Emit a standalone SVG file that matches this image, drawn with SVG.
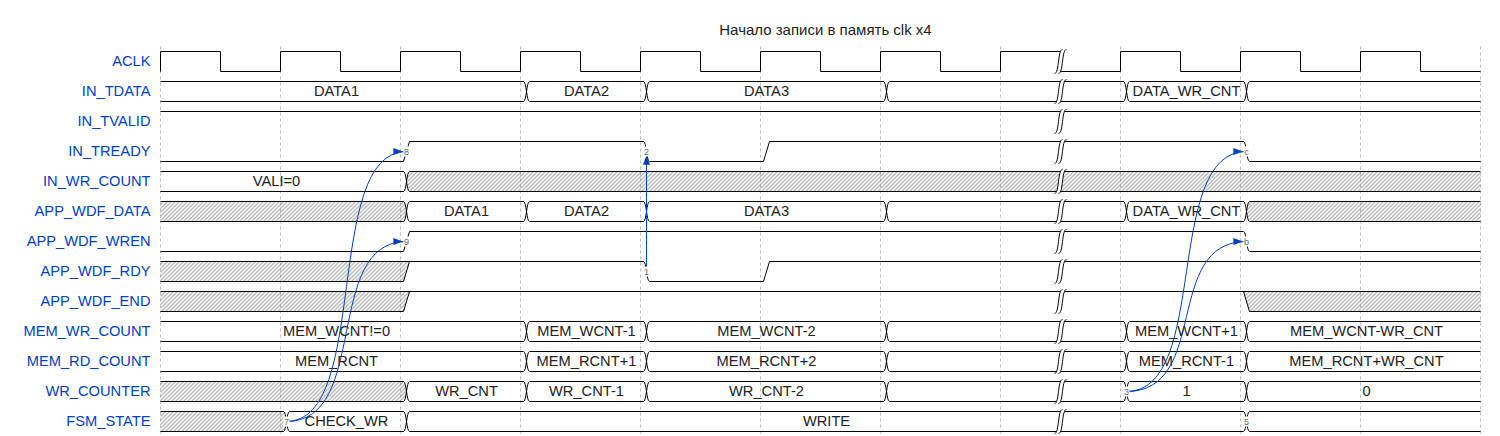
<svg xmlns="http://www.w3.org/2000/svg" xmlns:xlink="http://www.w3.org/1999/xlink" width="1500" height="436" viewBox="0 0 1500 436">
<style>
.lbl{font-family:"Liberation Sans",Arial,sans-serif;font-size:14.67px;fill:#0041c4;text-anchor:end}
.txt{font-family:"Liberation Sans",Arial,sans-serif;font-size:14.67px;fill:#222;text-anchor:middle}
.title{font-family:"Liberation Sans","Noto Sans",Arial,sans-serif;font-size:15px;fill:#222;text-anchor:middle}
.w{fill:none;stroke:#000;stroke-width:1}
.h{fill:url(#hatch);stroke:none}
.grid{stroke:#bbb;stroke-width:1;stroke-dasharray:3,3;fill:none}
.edge{fill:none;stroke:#0041c4;stroke-width:1;marker-end:url(#arrowhead)}
.nd{font-family:"Liberation Sans",Arial,sans-serif;font-size:9px;fill:#666;text-anchor:middle}
.ndbg{fill:#fff}
</style>
<defs>
<pattern id="hatch" width="4" height="4" patternUnits="userSpaceOnUse">
<path d="M-1,1 l2,-2 M0,4 l4,-4 M3,5 l2,-2" stroke="#666" stroke-width="0.9"/>
</pattern>
<marker id="arrowhead" markerHeight="7" markerWidth="10" markerUnits="strokeWidth" viewBox="0 -4 11 8" refX="15" refY="0" orient="auto">
<path d="M0,-4 11,0 0,4z" fill="#0041c4"/>
</marker>
<path id="xt" d="M3,0 C6,0 6,20 9,20 M3,20 C6,20 6,0 9,0" fill="none" stroke="#000" stroke-width="1"/>
<g id="gap">
<path d="M-6,22 C-1,22 -3,-2 2,-2 L6,-2 C1,-2 3,22 -2,22 Z" fill="#fff" stroke="none"/>
<path d="M-6,22 C-1,22 -3,-2 2,-2 M-2,22 C3,22 1,-2 6,-2" fill="none" stroke="#000" stroke-width="1"/>
</g>
</defs>
<rect width="1500" height="436" fill="#fff"/>
<g transform="translate(0.5,0.5)">
<g id="title"><text class="title" x="825" y="34">Начало записи в память clk x4</text></g>
<g id="grid" class="grid">
<path d="M160,46V436 M280,46V436 M400,46V436 M520,46V436 M640,46V436 M760,46V436 M880,46V436 M1000,46V436 M1120,46V436 M1240,46V436 M1360,46V436 M1480,46V436"/>
</g>

<g id="sig-ACLK">
<text class="lbl" x="150" y="65.5">ACLK</text>
<path class="w" d="M160,71 V51 H220 V71 H280 V51 H340 V71 H400 V51 H460 V71 H520 V51 H580 V71 H640 V51 H700 V71 H760 V51 H820 V71 H880 V51 H940 V71 H1000 V51 H1060 V71 H1120 V51 H1180 V71 H1240 V51 H1300 V71 H1360 V51 H1420 V71 H1480"/>
<use xlink:href="#gap" x="1060" y="51"/>
</g>

<g id="sig-IN_TDATA">
<text class="lbl" x="150" y="95.5">IN_TDATA</text>
<path class="w" d="M160,81 H523 M529,81 H643 M649,81 H883 M889,81 H1123 M1129,81 H1243 M1249,81 H1480 M160,101 H523 M529,101 H643 M649,101 H883 M889,101 H1123 M1129,101 H1243 M1249,101 H1480"/>
<use xlink:href="#xt" x="520" y="81"/><use xlink:href="#xt" x="640" y="81"/><use xlink:href="#xt" x="880" y="81"/><use xlink:href="#xt" x="1120" y="81"/><use xlink:href="#xt" x="1240" y="81"/>
<text class="txt" x="336" y="95.5">DATA1</text>
<text class="txt" x="586" y="95.5">DATA2</text>
<text class="txt" x="766" y="95.5">DATA3</text>
<text class="txt" x="1186" y="95.5">DATA_WR_CNT</text>
<use xlink:href="#gap" x="1060" y="81"/>
</g>

<g id="sig-IN_TVALID">
<text class="lbl" x="150" y="125.5">IN_TVALID</text>
<path class="w" d="M160,111 H1480"/>
<use xlink:href="#gap" x="1060" y="111"/>
</g>

<g id="sig-IN_TREADY">
<text class="lbl" x="150" y="155.5">IN_TREADY</text>
<path class="w" d="M160,161 H403 L409,141 H643 C646,141 646,161 649,161 H763 L769,141 H1243 C1246,141 1246,161 1249,161 H1480"/>
<use xlink:href="#gap" x="1060" y="141"/>
</g>

<g id="sig-IN_WR_COUNT">
<text class="lbl" x="150" y="185.5">IN_WR_COUNT</text>
<path class="h" d="M406,181 C406.75,176 407.5,171 409,171 H1480 V191 H409 C407.5,191 406.75,186 406,181 Z"/>
<path class="w" d="M160,171 H403 M409,171 H1480 M160,191 H403 M409,191 H1480"/>
<use xlink:href="#xt" x="400" y="171"/>
<text class="txt" x="276" y="185.5">VALI=0</text>
<use xlink:href="#gap" x="1060" y="171"/>
</g>

<g id="sig-APP_WDF_DATA">
<text class="lbl" x="150" y="215.5">APP_WDF_DATA</text>
<path class="h" d="M160,201 H403 C404.5,201 405.25,206 406,211 C405.25,216 404.5,221 403,221 H160 Z"/>
<path class="h" d="M1246,211 C1246.75,206 1247.5,201 1249,201 H1480 V221 H1249 C1247.5,221 1246.75,216 1246,211 Z"/>
<path class="w" d="M160,201 H403 M409,201 H523 M529,201 H643 M649,201 H883 M889,201 H1123 M1129,201 H1243 M1249,201 H1480 M160,221 H403 M409,221 H523 M529,221 H643 M649,221 H883 M889,221 H1123 M1129,221 H1243 M1249,221 H1480"/>
<use xlink:href="#xt" x="400" y="201"/><use xlink:href="#xt" x="520" y="201"/><use xlink:href="#xt" x="640" y="201"/><use xlink:href="#xt" x="880" y="201"/><use xlink:href="#xt" x="1120" y="201"/><use xlink:href="#xt" x="1240" y="201"/>
<text class="txt" x="466" y="215.5">DATA1</text>
<text class="txt" x="586" y="215.5">DATA2</text>
<text class="txt" x="766" y="215.5">DATA3</text>
<text class="txt" x="1186" y="215.5">DATA_WR_CNT</text>
<use xlink:href="#gap" x="1060" y="201"/>
</g>

<g id="sig-APP_WDF_WREN">
<text class="lbl" x="150" y="245.5">APP_WDF_WREN</text>
<path class="w" d="M160,251 H403 L409,231 H1243 C1246,231 1246,251 1249,251 H1480"/>
<use xlink:href="#gap" x="1060" y="231"/>
</g>

<g id="sig-APP_WDF_RDY">
<text class="lbl" x="150" y="275.5">APP_WDF_RDY</text>
<path class="h" d="M160,261 H409 L403,281 H160 Z"/>
<path class="w" d="M160,281 H403 L409,261 M160,261 H643 C646,261 646,281 649,281 H763 L769,261 H1480"/>
<use xlink:href="#gap" x="1060" y="261"/>
</g>

<g id="sig-APP_WDF_END">
<text class="lbl" x="150" y="305.5">APP_WDF_END</text>
<path class="h" d="M160,291 H409 L403,311 H160 Z"/>
<path class="h" d="M1243,291 H1480 V311 H1249 Z"/>
<path class="w" d="M160,311 H403 L409,291 M160,291 H1480 M1243,291 L1249,311 H1480"/>
<use xlink:href="#gap" x="1060" y="291"/>
</g>

<g id="sig-MEM_WR_COUNT">
<text class="lbl" x="150" y="335.5">MEM_WR_COUNT</text>
<path class="w" d="M160,321 H523 M529,321 H643 M649,321 H883 M889,321 H1123 M1129,321 H1243 M1249,321 H1480 M160,341 H523 M529,341 H643 M649,341 H883 M889,341 H1123 M1129,341 H1243 M1249,341 H1480"/>
<use xlink:href="#xt" x="520" y="321"/><use xlink:href="#xt" x="640" y="321"/><use xlink:href="#xt" x="880" y="321"/><use xlink:href="#xt" x="1120" y="321"/><use xlink:href="#xt" x="1240" y="321"/>
<text class="txt" x="336" y="335.5">MEM_WCNT!=0</text>
<text class="txt" x="586" y="335.5">MEM_WCNT-1</text>
<text class="txt" x="766" y="335.5">MEM_WCNT-2</text>
<text class="txt" x="1186" y="335.5">MEM_WCNT+1</text>
<text class="txt" x="1366" y="335.5">MEM_WCNT-WR_CNT</text>
<use xlink:href="#gap" x="1060" y="321"/>
</g>

<g id="sig-MEM_RD_COUNT">
<text class="lbl" x="150" y="365.5">MEM_RD_COUNT</text>
<path class="w" d="M160,351 H523 M529,351 H643 M649,351 H883 M889,351 H1123 M1129,351 H1243 M1249,351 H1480 M160,371 H523 M529,371 H643 M649,371 H883 M889,371 H1123 M1129,371 H1243 M1249,371 H1480"/>
<use xlink:href="#xt" x="520" y="351"/><use xlink:href="#xt" x="640" y="351"/><use xlink:href="#xt" x="880" y="351"/><use xlink:href="#xt" x="1120" y="351"/><use xlink:href="#xt" x="1240" y="351"/>
<text class="txt" x="336" y="365.5">MEM_RCNT</text>
<text class="txt" x="586" y="365.5">MEM_RCNT+1</text>
<text class="txt" x="766" y="365.5">MEM_RCNT+2</text>
<text class="txt" x="1186" y="365.5">MEM_RCNT-1</text>
<text class="txt" x="1366" y="365.5">MEM_RCNT+WR_CNT</text>
<use xlink:href="#gap" x="1060" y="351"/>
</g>

<g id="sig-WR_COUNTER">
<text class="lbl" x="150" y="395.5">WR_COUNTER</text>
<path class="h" d="M160,381 H403 C404.5,381 405.25,386 406,391 C405.25,396 404.5,401 403,401 H160 Z"/>
<path class="w" d="M160,381 H403 M409,381 H523 M529,381 H643 M649,381 H883 M889,381 H1123 M1129,381 H1243 M1249,381 H1480 M160,401 H403 M409,401 H523 M529,401 H643 M649,401 H883 M889,401 H1123 M1129,401 H1243 M1249,401 H1480"/>
<use xlink:href="#xt" x="400" y="381"/><use xlink:href="#xt" x="520" y="381"/><use xlink:href="#xt" x="640" y="381"/><use xlink:href="#xt" x="880" y="381"/><use xlink:href="#xt" x="1120" y="381"/><use xlink:href="#xt" x="1240" y="381"/>
<text class="txt" x="466" y="395.5">WR_CNT</text>
<text class="txt" x="586" y="395.5">WR_CNT-1</text>
<text class="txt" x="766" y="395.5">WR_CNT-2</text>
<text class="txt" x="1186" y="395.5">1</text>
<text class="txt" x="1366" y="395.5">0</text>
<use xlink:href="#gap" x="1060" y="381"/>
</g>

<g id="sig-FSM_STATE">
<text class="lbl" x="150" y="425.5">FSM_STATE</text>
<path class="h" d="M160,411 H283 C284.5,411 285.25,416 286,421 C285.25,426 284.5,431 283,431 H160 Z"/>
<path class="w" d="M160,411 H283 M289,411 H403 M409,411 H1243 M1249,411 H1480 M160,431 H283 M289,431 H403 M409,431 H1243 M1249,431 H1480"/>
<use xlink:href="#xt" x="280" y="411"/><use xlink:href="#xt" x="400" y="411"/><use xlink:href="#xt" x="1240" y="411"/>
<text class="txt" x="346" y="425.5">CHECK_WR</text>
<text class="txt" x="826" y="425.5">WRITE</text>
<use xlink:href="#gap" x="1060" y="411"/>
</g>

<g id="connectors">
<path class="edge" d="M286,421 c84,0 36,-270 120,-270"/>
<path class="edge" d="M286,421 c84,0 36,-180 120,-180"/>
<path class="edge" d="M646,271 L646,151"/>
<path class="edge" d="M1126,391 c84,0 36,-240 120,-240"/>
<path class="edge" d="M1126,391 c84,0 36,-150 120,-150"/>
</g>

<g id="node-labels">
<rect class="ndbg" x="403" y="146" width="6" height="10"/><text class="nd" x="406" y="154.5">8</text>
<rect class="ndbg" x="403" y="236" width="6" height="10"/><text class="nd" x="406" y="244.5">9</text>
<rect class="ndbg" x="643" y="146" width="6" height="10"/><text class="nd" x="646" y="154.5">2</text>
<rect class="ndbg" x="643" y="266" width="6" height="10"/><text class="nd" x="646" y="274.5">1</text>
<rect class="ndbg" x="283" y="416" width="6" height="10"/><text class="nd" x="286" y="424.5">7</text>
<rect class="ndbg" x="1123" y="386" width="6" height="10"/><text class="nd" x="1126" y="394.5">3</text>
<rect class="ndbg" x="1243" y="146" width="6" height="10"/><text class="nd" x="1246" y="154.5">c</text>
<rect class="ndbg" x="1243" y="236" width="6" height="10"/><text class="nd" x="1246" y="244.5">b</text>
<rect class="ndbg" x="1243" y="416" width="6" height="10"/><text class="nd" x="1246" y="424.5">5</text>
</g>
</g>
</svg>
